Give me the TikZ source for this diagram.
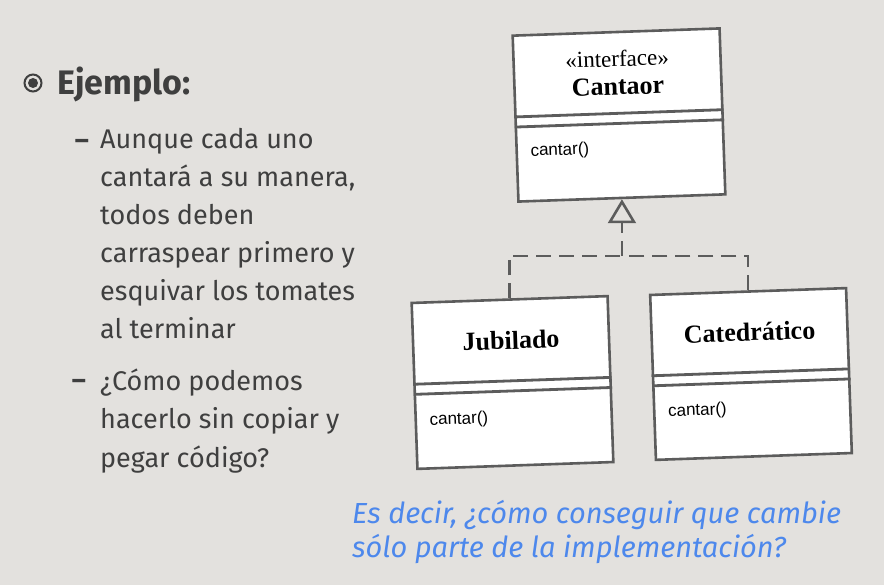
\documentclass[tikz,border=0pt]{standalone}
\usepackage{fontspec}
\setmainfont{Fira Sans}
\newfontfamily\umlfont{Liberation Serif}
\newfontfamily\opfont{Liberation Sans}
\usetikzlibrary{positioning, shapes, arrows.meta, calc}
\definecolor{slidebg}{HTML}{E3E1DE}
\definecolor{slidetext}{HTML}{3F3F3F}
\definecolor{umlline}{HTML}{5C5C5C}
\definecolor{noteblue}{HTML}{4D88EC}

\begin{document}
\begin{tikzpicture}[x=1pt,y=1pt,
        classbox/.style={rectangle, draw=umlline, fill=white, line width=2.6pt, rotate=2},
        classname/.style={rotate=2, font=\umlfont\bfseries\fontsize{26}{28}\selectfont},
        classop/.style={rotate=2, anchor=west, inner xsep=15pt, font=\opfont\fontsize{17}{20}\selectfont},
        realize/.style={draw=umlline, line width=2.6pt, dash pattern=on 15pt off 8pt},
        itemtext/.style={anchor=base west, align=left, inner sep=0pt, text=slidetext, font=\fontsize{27}{38.2}\selectfont}]
        \fill[slidebg] (0,0) rectangle (884,-585);
        \useasboundingbox (0,0) rectangle (884,-585);

        % left column
        \node at (33,-83) [circle, draw=slidetext, line width=2pt, minimum size=17pt, inner sep=0pt] (mark) {};
        \fill[slidetext] (mark.center) circle (5pt);
        \node at (57,-95) [anchor=base west, inner sep=0pt, text=slidetext, font=\bfseries\fontsize{34}{38}\selectfont] (title) {Ejemplo:};

        \node at (100,-339) [itemtext] (itemA) {Aunque cada uno\\cantará a su manera,\\todos deben\\carraspear primero y\\esquivar los tomates\\al terminar};
        \node at (100,-467) [itemtext] (itemB) {¿Cómo podemos\\hacerlo sin copiar y\\pegar código?};
        \node at (89,-150) [anchor=base east, inner sep=0pt, text=slidetext, font=\bfseries\fontsize{27}{30}\selectfont] (dashA) {–};
        \node at (86,-390) [anchor=base east, inner sep=0pt, text=slidetext, font=\bfseries\fontsize{27}{30}\selectfont] (dashB) {–};

        % classes
        \node at (619,-115) [classbox, minimum width=207pt, minimum height=166pt] (cant) {};
        \node at (512.5,-382.5) [classbox, minimum width=196pt, minimum height=166pt] (jub) {};
        \node at (751,-374) [classbox, minimum width=196pt, minimum height=165pt] (cat) {};

        \foreach \cls in {cant, jub, cat} {
            \draw[umlline, line width=2.8pt] ($(\cls.north west)!0.49!(\cls.south west)$) -- ($(\cls.north east)!0.49!(\cls.south east)$);
            \draw[umlline, line width=2.8pt] ($(\cls.north west)!0.55!(\cls.south west)$) -- ($(\cls.north east)!0.55!(\cls.south east)$);
        }

        \node at ($(cant.north)!0.165!(cant.south)$) [rotate=2, font=\umlfont\fontsize{23}{26}\selectfont] (cant_st) {«interface»};
        \node at ($(cant.north)!0.33!(cant.south)$) [classname] (cant_name) {Cantaor};
        \node at ($(cant.north west)!0.70!(cant.south west)$) [classop] (cant_op) {cantar()};

        \node at ($(jub.north)!0.25!(jub.south)$) [classname] (jub_name) {Jubilado};
        \node at ($(jub.north west)!0.71!(jub.south west)$) [classop] (jub_op) {cantar()};

        \node at ($(cat.north)!0.25!(cat.south)$) [classname] (cat_name) {Catedrático};
        \node at ($(cat.north west)!0.71!(cat.south west)$) [classop] (cat_op) {cantar()};

        % realization
        \coordinate (join) at (cant.south |- 0,-256);
        \draw[realize] (jub.north) |- (join);
        \draw[realize] (cat.north) |- (join);
        \draw[realize, -{Triangle[open, length=24pt, width=28pt, line width=2.6pt]}] (join) -- (cant.south);

        % note
        \node at (352,-557) [anchor=base west, align=left, inner sep=0pt, text=noteblue, font=\itshape\fontsize{29}{34}\selectfont] (note) {Es decir, ¿cómo conseguir que cambie\\sólo parte de la implementación?};
\end{tikzpicture}
\end{document}
